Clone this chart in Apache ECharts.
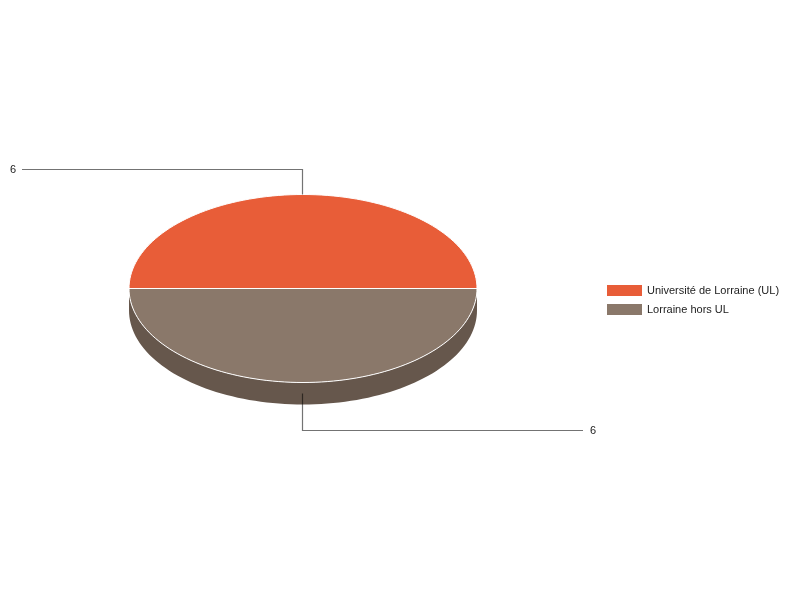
<!DOCTYPE html>
<html>
<head>
<meta charset="utf-8">
<script src="https://cdn.jsdelivr.net/npm/echarts@6/dist/echarts.min.js"></script>
<style>
    html, body { margin: 0; padding: 0; background: #fff; }
    #main { width: 800px; height: 600px; }
</style>
</head>
<body>
<div id="main"></div>
<script>
    // données
    var categories = ['Université de Lorraine (UL)', 'Lorraine hors UL'];
    var values = [6, 6];
    var colors = ['#e85d38', '#8a786a'];
    var sideColors = ['#a8432b', '#66574c'];

    // mise en page du camembert "3D"
    var cx = 303, cy = 288.5, rx = 174, ry = 94, depth = 22;

    var total = values.reduce(function (a, b) { return a + b; }, 0);

    function pt(deg, dy) {
        var a = deg * Math.PI / 180;
        return [cx + rx * Math.cos(a), cy + dy - ry * Math.sin(a)];
    }

    // points de l'arc d'ellipse de a1 vers a2 (degrés)
    function arc(a1, a2, dy) {
        var n = Math.max(2, Math.ceil(Math.abs(a1 - a2) / 2));
        var pts = [];
        for (var k = 0; k <= n; k++) {
            pts.push(pt(a1 + (a2 - a1) * k / n, dy));
        }
        return pts;
    }

    function renderItem(params, api) {
        var idx = params.dataIndex;
        var start = 180;
        for (var i = 0; i < idx; i++) {
            start -= values[i] / total * 360;
        }
        var end = start - api.value(0) / total * 360;
        var mid = (start + end) / 2;
        var children = [];

        // paroi visible (moitié basse)
        var hi = Math.min(start, 0), lo = Math.max(end, -180);
        if (hi > lo) {
            var wall = arc(hi, lo, 0).concat(arc(lo, hi, depth));
            children.push({
                type: 'polygon',
                z2: 1,
                shape: {points: wall},
                style: {fill: sideColors[idx]}
            });
        }

        // face du dessus
        children.push({
            type: 'polygon',
            z2: 2,
            shape: {points: [[cx, cy]].concat(arc(start, end, 0))},
            style: {fill: colors[idx], stroke: '#ffffff', lineWidth: 1}
        });

        // étiquette avec ligne de rappel
        var p = pt(mid, 0);
        var lx = Math.round(p[0]) - 0.5;
        var line, tx, align;
        if (Math.sin(mid * Math.PI / 180) >= 0) {
            var y1 = Math.round(p[1] - 25) - 0.5;
            line = [[lx, p[1]], [lx, y1], [cx - 281, y1]];
            tx = cx - 287;
            align = 'right';
        } else {
            var y2 = Math.round(p[1] + depth + 25) + 0.5;
            line = [[lx, p[1] + depth / 2], [lx, y2], [cx + 280, y2]];
            tx = cx + 287;
            align = 'left';
        }
        children.push({
            type: 'polyline',
            z2: 3,
            shape: {points: line},
            style: {stroke: 'rgba(0,0,0,0.55)', lineWidth: 1.2, fill: null}
        });
        children.push({
            type: 'text',
            z2: 3,
            style: {
                x: tx,
                y: line[2][1],
                text: String(api.value(0)),
                align: align,
                verticalAlign: 'middle',
                fill: '#222',
                font: '11px "Liberation Sans", Arial, sans-serif'
            }
        });

        return {type: 'group', children: children};
    }

    var chart = echarts.init(document.getElementById('main'));
    var option = {
        animation: false,
        backgroundColor: '#fff',
        legend: {
            orient: 'vertical',
            left: 607,
            top: 285,
            padding: 0,
            itemWidth: 35,
            itemHeight: 11,
            itemGap: 8,
            icon: 'rect',
            selectedMode: false,
            data: categories,
            textStyle: {
                fontSize: 11,
                color: '#222',
                fontFamily: '"Liberation Sans", Arial, sans-serif'
            }
        },
        series: [
            {
                type: 'custom',
                coordinateSystem: 'none',
                silent: true,
                renderItem: renderItem,
                data: values.map(function (v) { return [v]; })
            },
            {
                // série fantôme pour la légende
                type: 'pie',
                radius: [0, 0],
                silent: true,
                label: {show: false},
                labelLine: {show: false},
                data: categories.map(function (c, i) {
                    return {name: c, value: values[i], itemStyle: {color: colors[i]}};
                })
            }
        ]
    };
    chart.setOption(option);
</script>
</body>
</html>
